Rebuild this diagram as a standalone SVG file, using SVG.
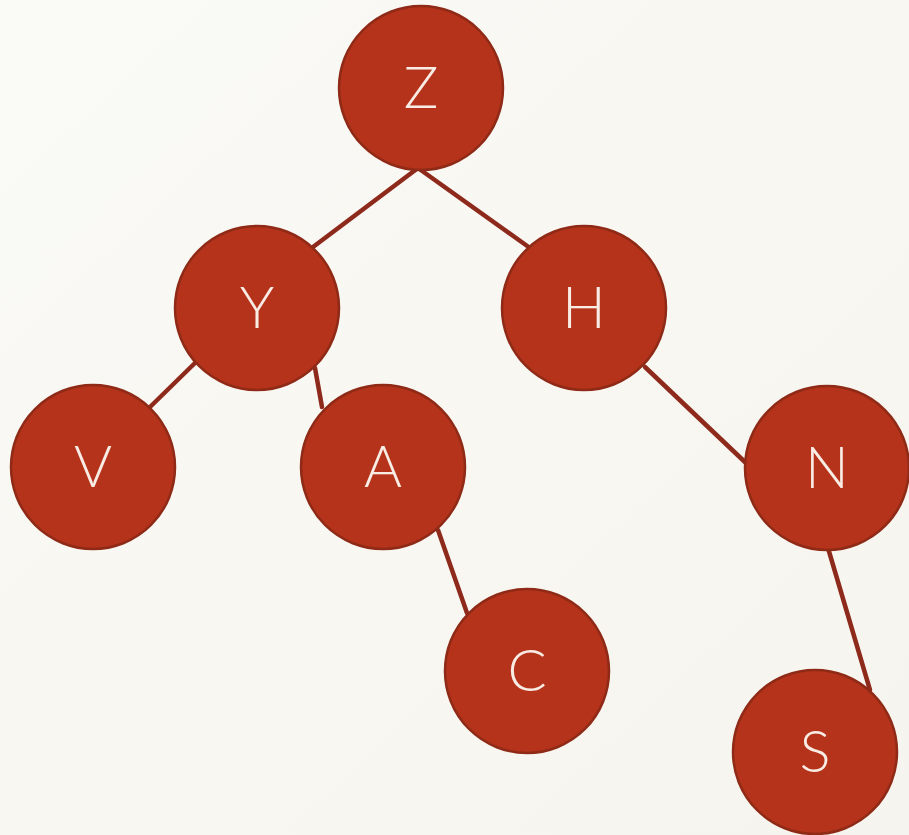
<svg xmlns="http://www.w3.org/2000/svg" width="909" height="835" viewBox="0 0 909 835">
<defs>
<linearGradient id="bg" x1="0" y1="0" x2="1" y2="1">
<stop offset="0" stop-color="#FAFAF6"/>
<stop offset="1" stop-color="#F6F4EE"/>
</linearGradient>
</defs>
<style>
.edge{stroke:#8E2A1C;stroke-width:4.5;stroke-linecap:round;fill:none}
.node circle{fill:#B5331B;stroke:#8F2A17;stroke-width:2.5}
.node text{font-family:Lato,"Open Sans","Liberation Sans",sans-serif;font-weight:300;font-size:58px;fill:#F8ECE4;text-anchor:middle}
</style>
<rect width="909" height="835" fill="url(#bg)"/>
<g id="connectors">
<line class="edge" x1="418" y1="168" x2="313" y2="247"/>
<line class="edge" x1="418" y1="168" x2="530" y2="248"/>
<line class="edge" x1="195" y1="363" x2="150" y2="407"/>
<line class="edge" x1="315" y1="368" x2="322" y2="407"/>
<line class="edge" x1="438" y1="530" x2="467" y2="613"/>
<line class="edge" x1="645" y1="367" x2="747" y2="464"/>
<line class="edge" x1="828" y1="548" x2="870" y2="690"/>
</g>
<g id="node-Z" class="node"><circle cx="421" cy="88" r="82"/><text x="421" y="108">Z</text></g>
<g id="node-Y" class="node"><circle cx="257" cy="308" r="82"/><text x="257" y="328">Y</text></g>
<g id="node-H" class="node"><circle cx="584" cy="308" r="82"/><text x="584" y="328">H</text></g>
<g id="node-V" class="node"><circle cx="93" cy="467" r="82"/><text x="93" y="487">V</text></g>
<g id="node-A" class="node"><circle cx="383" cy="467" r="82"/><text x="383" y="487">A</text></g>
<g id="node-N" class="node"><circle cx="827" cy="468" r="82"/><text x="827" y="488">N</text></g>
<g id="node-C" class="node"><circle cx="527" cy="671" r="82"/><text x="527" y="691">C</text></g>
<g id="node-S" class="node"><circle cx="815" cy="752" r="82"/><text x="815" y="772">S</text></g>
</svg>
